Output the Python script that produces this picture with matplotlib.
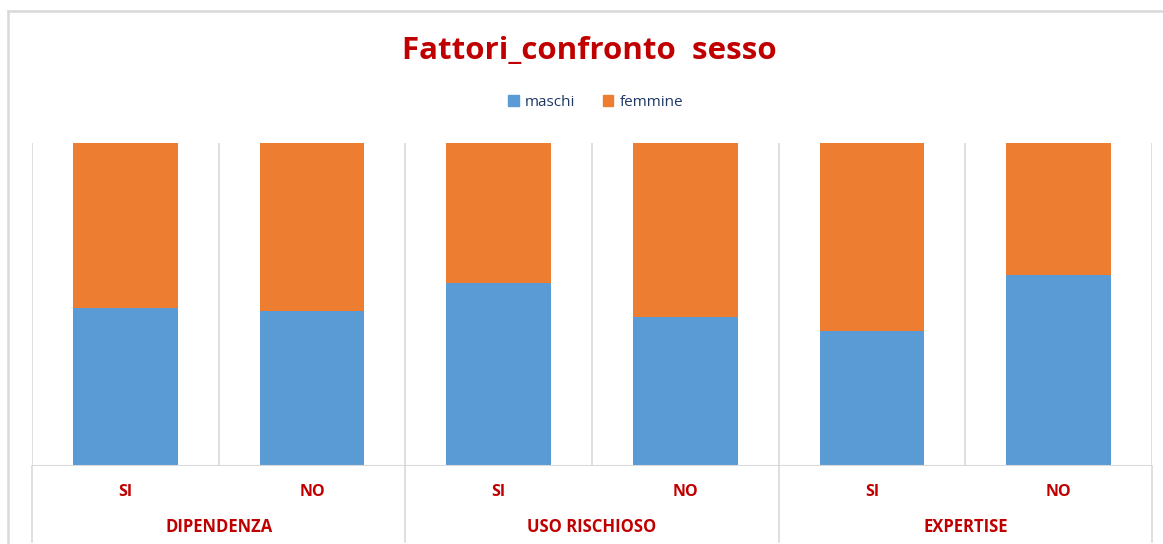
import matplotlib.pyplot as plt
import matplotlib.transforms as mtransforms
from matplotlib.lines import Line2D
from matplotlib.patches import Patch

# data (percent, 100% stacked)
categorie = ["SI", "NO", "SI", "NO", "SI", "NO"]
gruppi = ["DIPENDENZA", "USO RISCHIOSO", "EXPERTISE"]
maschi = [48.9, 48.0, 56.7, 46.1, 41.8, 59.1]
femmine = [51.1, 52.0, 43.3, 53.9, 58.2, 40.9]

blu = "#5B9BD5"
arancio = "#ED7D31"
rosso = "#C00000"
griglia = "#D9D9D9"

plt.rcParams['font.family'] = ['Open Sans', 'DejaVu Sans']

fig = plt.figure(figsize=(11.63, 5.44), dpi=100)
ax = fig.add_axes([32 / 1163, 1 - 466 / 544, 1120 / 1163, 323 / 544])

x = list(range(len(categorie)))
ax.bar(x, maschi, width=0.56, color=blu, label="maschi", zorder=3)
ax.bar(x, femmine, width=0.56, bottom=maschi, color=arancio, label="femmine", zorder=3)

ax.set_xlim(-0.5, len(categorie) - 0.5)
ax.set_ylim(0, 100)
for s in ax.spines.values():
    s.set_visible(False)
ax.set_yticks([])
ax.set_xticks(x)
ax.set_xticklabels(categorie, color=rosso, fontweight="bold", fontsize=11.5)
ax.tick_params(axis="x", length=0, pad=13)

# vertical gridlines between bars
for b in range(len(categorie) + 1):
    ax.axvline(b - 0.5, color=griglia, lw=1.2, zorder=1)
ax.axhline(0, color=griglia, lw=1.5, zorder=4)

# group separators and labels below the axis
trans = mtransforms.blended_transform_factory(ax.transData, ax.transAxes)
for g in range(len(gruppi) + 1):
    ax.plot([2 * g - 0.5, 2 * g - 0.5], [0, -0.235], color=griglia, lw=1.2,
            transform=trans, clip_on=False)
for g, nome in enumerate(gruppi):
    ax.text(2 * g + 0.5, -0.19, nome, transform=trans, ha="center", va="center",
            color=rosso, fontweight="bold", fontsize=12)

# title and legend
fig.text(0.507, 1 - 51 / 544, "Fattori_confronto  sesso", ha="center", va="center",
         color=rosso, fontweight="bold", fontsize=22.5)
handles = [Patch(color=blu), Patch(color=arancio)]
leg = fig.legend(handles, ["maschi", "femmine"], loc="center", ncol=2,
                 bbox_to_anchor=(0.512, 1 - 102 / 544), frameon=False,
                 fontsize=11, handlelength=0.7, handleheight=0.7,
                 handletextpad=0.4, columnspacing=1.8)
for t in leg.get_texts():
    t.set_color("#1F3864")

# outer chart frame (left and top edges visible)
fx, fy = 8 / 1163, 1 - 11 / 544
fig.lines.append(Line2D([fx, fx], [0, fy], transform=fig.transFigure,
                        color=griglia, lw=1.8))
fig.lines.append(Line2D([fx, 1.05], [fy, fy], transform=fig.transFigure,
                        color=griglia, lw=1.8))

fig.savefig("out.png", dpi=100)
